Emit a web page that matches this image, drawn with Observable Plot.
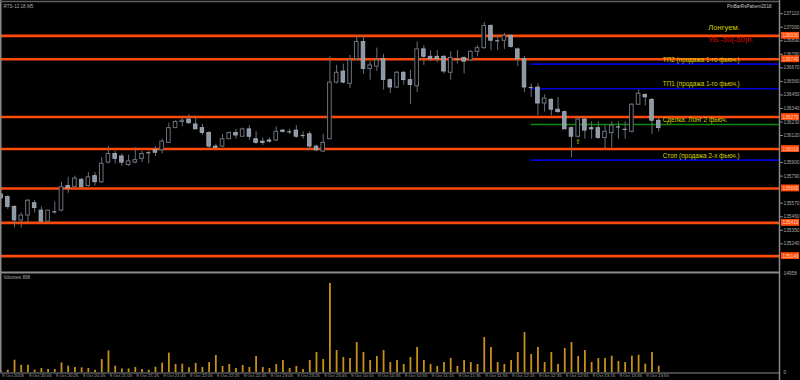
<!DOCTYPE html>
<html><head><meta charset="utf-8">
<script src="https://cdn.jsdelivr.net/npm/d3@7"></script>
<script src="https://cdn.jsdelivr.net/npm/@observablehq/plot@0.6"></script>
<style>
html,body{margin:0;padding:0;background:#000;}
#chart{width:800px;height:380px;background:#000;overflow:hidden}
#chart svg{display:block}
</style></head><body><div id="chart"></div>
<script>
// ---- data (RTS-12.18, M5) ----
const opens  = [135640,135620,135540,135430,135470,135570,135510,135420,135500,135510,135710,135700,135760,135710,135790,135740,135900,135970,135950,135880,135900,135930,135980,136000,136000,136060,136180,136230,136250,136210,136180,136140,136030,136030,136090,136140,136110,136170,136090,136070,136080,136080,136160,136150,136160,136120,136130,136030,135990,136090,136550,136640,136540,136740,136880,136660,136680,136740,136570,136510,136630,136570,136520,136820,136760,136760,136760,136630,136740,136750,136730,136800,136830,137010,136890,136890,136930,136820,136740,136510,136510,136380,136410,136330,136310,136180,136110,136250,136180,136180,136100,136140,136190,136170,136150,136370,136450,136410,136240];
const highs  = [135650,135630,135550,135490,135600,135590,135540,135510,135580,135740,135780,135790,135770,135820,135820,135940,136030,135990,135970,135960,136020,135990,135990,136030,136090,136220,136240,136270,136290,136280,136210,136150,136050,136130,136150,136170,136180,136200,136150,136100,136100,136190,136170,136170,136200,136150,136150,136040,136130,136760,136690,136700,136770,136930,136930,136720,136830,136780,136580,136640,136640,136650,136880,136850,136810,136810,136770,136800,136810,136760,136810,136850,137040,137020,136930,136950,136940,136830,136760,136540,136540,136450,136420,136430,136320,136190,136270,136270,136230,136230,136200,136230,136230,136230,136380,136490,136460,136420,136260];
const lows   = [135600,135520,135370,135370,135410,135490,135410,135410,135480,135500,135650,135700,135690,135700,135710,135730,135890,135890,135870,135870,135890,135900,135890,135950,135970,136060,136180,136190,136210,136170,136120,136010,136010,136020,136090,136090,136110,136080,136050,136040,136060,136070,136140,136130,136100,136090,136000,135990,135980,136090,136540,136540,136500,136730,136620,136570,136640,136490,136460,136500,136530,136370,136470,136690,136720,136710,136620,136570,136700,136620,136720,136760,136820,136810,136810,136820,136830,136680,136470,136430,136280,136310,136280,136300,136170,135940,136100,136090,136090,136090,136010,136020,136090,136090,136140,136370,136360,136130,136150];
const closes = [135610,135540,135430,135470,135590,135530,135420,135510,135500,135700,135690,135770,135700,135780,135740,135890,135970,135930,135900,135910,135920,135970,135980,135980,136070,136180,136230,136240,136220,136170,136140,136030,136020,136090,136140,136120,136170,136110,136060,136060,136070,136150,136150,136150,136110,136120,136030,136000,136060,136550,136630,136550,136730,136880,136660,136690,136730,136570,136510,136630,136570,136530,136820,136760,136740,136740,136640,136750,136740,136720,136800,136830,137010,136890,136890,136930,136840,136740,136510,136510,136380,136420,136330,136310,136170,136110,136250,136160,136170,136100,136150,136200,136190,136170,136370,136460,136430,136240,136180];
const volumes = [150,350,1860,1100,1100,350,600,450,450,1450,950,760,700,600,350,1960,3260,950,540,540,760,450,350,800,1410,2920,1210,1250,700,1360,760,1510,2570,910,1210,600,1060,760,2420,760,600,1210,1810,600,910,450,1810,3020,1960,13450,3320,2270,2120,4530,3020,1810,2420,3320,1510,1810,1210,2270,3780,1810,1210,910,1510,2120,910,1810,1510,1210,5290,3780,1510,1210,1810,3020,6040,2720,3780,1510,3020,1210,3630,4530,2420,3320,1510,2120,2120,2460,1660,1510,2460,2610,1250,3020,950];
const timeLabelBars = [0,4,8,12,16,20,24,28,32,36,40,44,48,52,56,60,64,68,72,76,80,84,88,92,96];
const timeLabels = ["9 Oct 2018","9 Oct 20:05","9 Oct 20:25","9 Oct 20:45","9 Oct 21:05","9 Oct 21:25","9 Oct 21:45","9 Oct 22:05","9 Oct 22:25","9 Oct 22:45","9 Oct 23:05","9 Oct 23:25","9 Oct 23:45","9 Oct 10:15","9 Oct 10:35","9 Oct 10:55","9 Oct 11:15","9 Oct 11:35","9 Oct 11:55","9 Oct 12:15","9 Oct 12:35","9 Oct 12:55","9 Oct 13:15","9 Oct 13:35","9 Oct 13:55"];
const priceTicks = [137110,137000,136890,136780,136670,136560,136450,136340,136230,136120,135900,135790,135570,135460,135350,135240];
const orangeLevels = [136930,136740,136270,136010,135690,135410,135140];
const blueLevels = [136700,136500,135920];
const greenLevels = [136210];
const tradeStartBar = 79;
const levelTexts = ["ТП2 (продажа 1-го фьюч.)","ТП1 (продажа 1-го фьюч.)","Сделка: Лонг 2 фьюч.","Стоп (продажа 2-х фьюч.)"];
const levelTextPrices = [136735,136540,136250,135958];
const headTexts = ["Лонгуем.","УБ -50(-50)п."];
const headTextPrices = [137000,136898];
const arrowBar = [86];
const arrowPrice = [136066];
const volumeMax = 14958;
const volumeTitle = "Volumes 898";
const symbolTitle = "RTS-12.18,M5";
const indicatorTitle = "PinBarRsPattern2018";

// ---- layout constants ----
const XMIN = -0.09, XMAX = 116.0;
const PMIN = 135015, PMAX = 137201;
const ORANGE = "#ff4a0a", BLUE = "#0000d8", GREEN = "#0a8a0a", YELLOW = "#d2d200", RED = "#e00000";
const GRID = "#8a8a8a", AXIS_TEXT = "#a8a8a8";
const WICK = "#6a7079", BULL = "#6c737c", BEAR_FILL = "#8e99a7", BEAR_STROKE = "#a6afba";
const GOLD = "#c8901a";
const FONT = "Liberation Sans, Arial, sans-serif";

const bars = opens.map((o, i) => ({i, o, h: highs[i], l: lows[i], c: closes[i], v: volumes[i]}));
const xScale = {domain: [XMIN, XMAX]};
const fmt = d => d.toFixed(0);

const main = Plot.plot({
  width: 800, height: 271,
  marginLeft: 0, marginRight: 21, marginTop: 2, marginBottom: 0,
  style: {background: "#000", color: AXIS_TEXT, fontFamily: FONT, overflow: "visible"},
  x: {...xScale, axis: null, label: null},
  y: {domain: [PMIN, PMAX], axis: null, label: null},
  marks: [
    Plot.ruleY(orangeLevels, {stroke: ORANGE, strokeWidth: 2.6}),
    Plot.ruleY(blueLevels, {x1: tradeStartBar, x2: XMAX, stroke: BLUE, strokeWidth: 1.6}),
    Plot.ruleY(greenLevels, {x1: tradeStartBar, x2: XMAX, stroke: GREEN, strokeWidth: 1.6}),
    Plot.ruleX(bars, {x: "i", y1: "l", y2: "h", stroke: WICK, strokeWidth: 1}),
    Plot.rect(bars.filter(d => d.c > d.o), {x1: d => d.i - 0.27, x2: d => d.i + 0.27, y1: "o", y2: "c", fill: "#000", stroke: BULL, strokeWidth: 1}),
    Plot.rect(bars.filter(d => d.c < d.o), {x1: d => d.i - 0.27, x2: d => d.i + 0.27, y1: "c", y2: "o", fill: BEAR_FILL, stroke: BEAR_STROKE, strokeWidth: 0.8}),
    Plot.ruleY(bars.filter(d => d.c === d.o), {x1: d => d.i - 0.3, x2: d => d.i + 0.3, y: "o", stroke: "#9aa3ae", strokeWidth: 1.2}),
    Plot.text(levelTexts, {x: () => 98.6, y: (d, i) => levelTextPrices[i], text: d => d, textAnchor: "start", fill: YELLOW, fontSize: 6.4}),
    Plot.text(headTexts, {x: () => 105.4, y: (d, i) => headTextPrices[i], text: d => d, textAnchor: "start", fill: (d, i) => i === 0 ? YELLOW : RED, fontSize: 7.6}),
    Plot.text(arrowBar, {x: d => d, y: (d, i) => arrowPrice[i], text: () => "⇧", fill: YELLOW, fontSize: 7}),
    Plot.ruleX([XMAX], {stroke: GRID, strokeWidth: 1.5, insetTop: -2}),
    Plot.ruleX([XMIN], {stroke: GRID, strokeWidth: 2, insetTop: -2}),
    Plot.ruleY([PMAX], {stroke: "#606060", strokeWidth: 1.6, dy: -1}),
    Plot.axisY(priceTicks, {anchor: "right", label: null, tickSize: 3, tickPadding: 1, fontSize: 4.8, tickFormat: fmt, stroke: GRID, fill: AXIS_TEXT}),
    Plot.rect(orangeLevels, {x1: () => XMAX + 0.3, x2: () => XMAX + 3.0, y1: d => d - 28, y2: d => d + 28, fill: ORANGE}),
    Plot.text(orangeLevels, {x: () => XMAX + 0.45, y: d => d, text: fmt, textAnchor: "start", fill: "#ffd2b4", fontSize: 4.8}),
    Plot.text([symbolTitle], {frameAnchor: "top-left", dx: 3, dy: 2, fontSize: 4.6, fill: AXIS_TEXT, lineAnchor: "top"}),
    Plot.text([indicatorTitle], {frameAnchor: "top-right", dx: -8, dy: 2, fontSize: 4.6, fill: "#c8c8c8", lineAnchor: "top"})
  ]
});

const vol = Plot.plot({
  width: 800, height: 109,
  marginLeft: 0, marginRight: 21, marginTop: 2, marginBottom: 8,
  style: {background: "#000", color: AXIS_TEXT, fontFamily: FONT, overflow: "visible"},
  x: {...xScale, axis: null, label: null},
  y: {domain: [0, volumeMax], axis: null, label: null},
  marks: [
    Plot.ruleY([volumeMax], {stroke: GRID, strokeWidth: 1.8, dy: -1}),
    Plot.ruleX(bars, {x: "i", y1: 0, y2: "v", stroke: GOLD, strokeWidth: 1.8}),
    Plot.ruleY([0], {stroke: GRID, strokeWidth: 1.2, dy: 0.5}),
    Plot.ruleX([XMAX], {stroke: GRID, strokeWidth: 1.5, insetTop: -2, insetBottom: -8}),
    Plot.ruleX([XMIN], {stroke: GRID, strokeWidth: 2, insetTop: -2}),
    Plot.axisY([0, volumeMax], {anchor: "right", label: null, tickSize: 0, tickPadding: 4, fontSize: 4.8, tickFormat: fmt, fill: AXIS_TEXT}),
    Plot.text([volumeTitle], {frameAnchor: "top-left", dx: 3, dy: 2, fontSize: 4.6, fill: AXIS_TEXT, lineAnchor: "top"}),
    Plot.text(timeLabelBars, {x: d => d, frameAnchor: "bottom", dy: 4, dx: 1, text: (d, i) => timeLabels[i], textAnchor: "start", fontSize: 4.4, fill: AXIS_TEXT})
  ]
});

const root = document.getElementById("chart");
root.appendChild(main);
root.appendChild(vol);
</script>
</body></html>
